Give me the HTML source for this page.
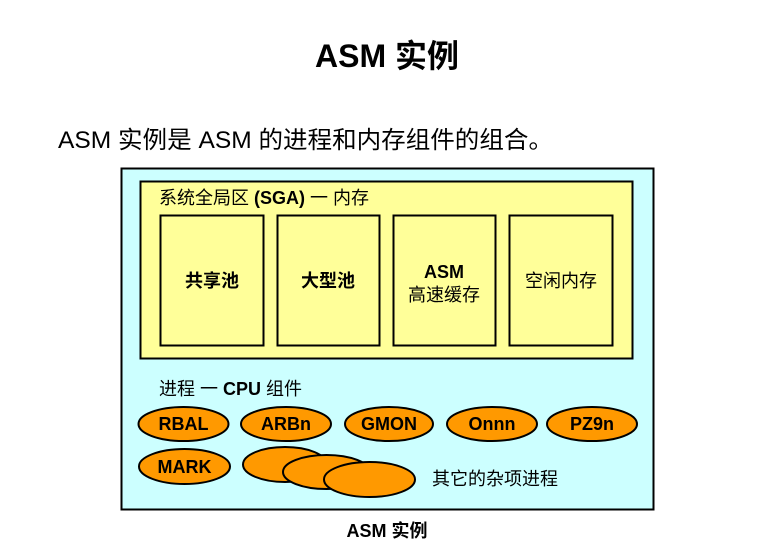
<!DOCTYPE html>
<html><head><meta charset="utf-8"><style>
html,body{margin:0;padding:0;background:#fff;}
svg{display:block;}
text{font-family:"Liberation Sans","Noto Sans CJK SC",sans-serif;fill:#000;}
</style></head><body>
<svg width="770" height="544" viewBox="0 0 770 544" xmlns="http://www.w3.org/2000/svg">
<text x="387" y="67" font-size="32" font-weight="bold" text-anchor="middle">ASM 实例</text>
<text x="58" y="148" font-size="24" textLength="495" lengthAdjust="spacingAndGlyphs">ASM 实例是 ASM 的进程和内存组件的组合。</text>
<rect x="121.5" y="168.5" width="532" height="341" fill="#ccffff" stroke="#000" stroke-width="2"/>
<rect x="140.5" y="181.5" width="492" height="177" fill="#ffff99" stroke="#000" stroke-width="2"/>
<text x="159" y="204" font-size="18">系统全局区 <tspan font-weight="bold">(SGA)</tspan> 一 内存</text>
<g fill="#ffff99" stroke="#000" stroke-width="2">
<rect x="160.5" y="215.5" width="103" height="130"/>
<rect x="277.5" y="215.5" width="102" height="130"/>
<rect x="393.5" y="215.5" width="102" height="130"/>
<rect x="509.5" y="215.5" width="103" height="130"/>
</g>
<g font-size="18" font-weight="bold" text-anchor="middle">
<text x="212" y="287">共享池</text>
<text x="328" y="287">大型池</text>
<text x="444" y="278">ASM</text>
<text x="561" y="287" font-weight="normal">空闲内存</text>
</g>
<text x="444" y="301" font-size="18" text-anchor="middle">高速缓存</text>
<text x="159" y="395" font-size="18">进程 一 <tspan font-weight="bold">CPU</tspan> 组件</text>
<g fill="#ff9900" stroke="#000" stroke-width="2">
<ellipse cx="183.5" cy="424" rx="45" ry="17"/>
<ellipse cx="286" cy="424" rx="45" ry="17"/>
<ellipse cx="389" cy="424" rx="44" ry="17"/>
<ellipse cx="492" cy="424" rx="45" ry="17"/>
<ellipse cx="592" cy="424" rx="45" ry="17"/>
<ellipse cx="184.5" cy="466.5" rx="45.5" ry="17.5"/>
<ellipse cx="285" cy="464.5" rx="42" ry="17.5"/>
<ellipse cx="326.5" cy="472" rx="43.5" ry="17"/>
<ellipse cx="369.5" cy="479.5" rx="45.5" ry="17.5"/>
</g>
<g font-size="18" font-weight="bold" text-anchor="middle">
<text x="183.5" y="430">RBAL</text>
<text x="286" y="430">ARBn</text>
<text x="389" y="430">GMON</text>
<text x="492" y="430">Onnn</text>
<text x="592" y="430">PZ9n</text>
<text x="184.5" y="473">MARK</text>
</g>
<text x="432" y="485" font-size="18">其它的杂项进程</text>
<text x="387" y="537" font-size="18" font-weight="bold" text-anchor="middle">ASM 实例</text>
</svg>
</body></html>
